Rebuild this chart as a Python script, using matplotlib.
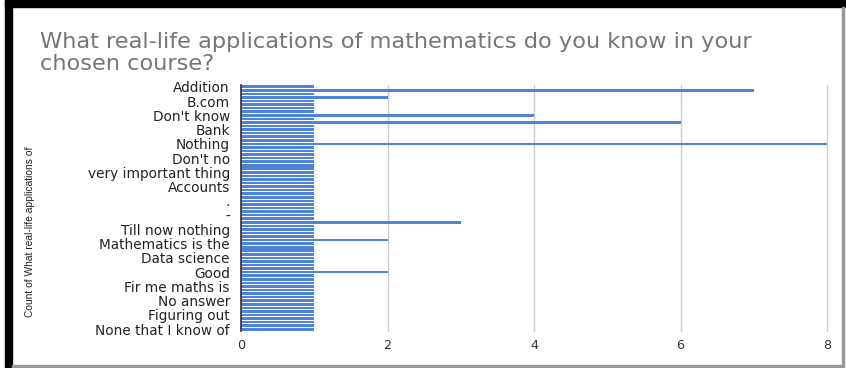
import matplotlib
matplotlib.use("Agg")
import matplotlib.pyplot as plt
from matplotlib.patches import Rectangle
import numpy as np

# ---- data ----
n_categories = 69
tick_labels = ["Addition", "B.com", "Don't know", "Bank", "Nothing", "Don't no",
               "very important thing", "Accounts", ".", "-", "Till now nothing",
               "Mathematics is the", "Data science", "Good", "Fir me maths is",
               "No answer", "Figuring out", "None that I know of"]
label_step = 4
# counts: every answer counted once, except these
counts = [1] * n_categories
special_idx = [1, 3, 8, 10, 16, 38, 43, 52]
special_val = [7, 2, 4, 6, 8, 3, 2, 2]
for i, v in zip(special_idx, special_val):
    counts[i] = v

title = "What real-life applications of mathematics do you know in your\nchosen course?"
ylabel = "Count of What real-life applications of"
xticks = [0, 2, 4, 6, 8]

# ---- figure ----
W, H = 846, 368
fig = plt.figure(figsize=(W / 100, H / 100), dpi=100)
fig.patch.set_facecolor("white")

ax = fig.add_axes([241 / W, 1 - 331 / H, (827 - 241) / W, (331 - 85) / H])
y = np.arange(n_categories)
ax.barh(y, counts, height=0.72, color="#4d84d9", zorder=3)
ax.set_ylim(n_categories - 0.5, -0.5)
ax.set_xlim(0, 8)

ax.set_yticks(y[::label_step])
ax.set_yticklabels(tick_labels, fontsize=9.8, color="#222222",
                   family=["DejaVu Sans"])
ax.tick_params(axis="y", length=0, pad=8)
ax.set_xticks(xticks)
ax.set_xticklabels([str(t) for t in xticks], fontsize=9.2, color="#333333")
ax.tick_params(axis="x", length=0, pad=6)

ax.grid(axis="x", color="#cccccc", linewidth=1, zorder=0)
for s in ["top", "right", "bottom"]:
    ax.spines[s].set_visible(False)
ax.spines["left"].set_color("#333333")
ax.spines["left"].set_linewidth(1.2)
ax.spines["left"].set_zorder(4)
for gl in ax.get_xgridlines():
    gl.set_clip_on(False)

fig.text(40 / W, 1 - 32 / H, title, fontsize=16.2, color="#757575",
         ha="left", va="top", linespacing=1.13, family=["DejaVu Sans"])

fig.text(30 / W, 1 - 232 / H, ylabel, rotation=90, fontsize=7.4, color="#222222",
         ha="center", va="center", family=["Liberation Sans Narrow", "Liberation Sans", "DejaVu Sans"])

# screenshot frame
fig.patches.append(Rectangle((5 / W, 1 - 7 / H), 1, 7 / H, transform=fig.transFigure,
                             color="black", zorder=10))
fig.patches.append(Rectangle((5 / W, 0), 7 / W, 1, transform=fig.transFigure,
                             color="black", zorder=10))
fig.patches.append(Rectangle((12 / W, 1.5 / H), (843 - 12) / W, 1.5 / H,
                             transform=fig.transFigure, color="#999999", zorder=10))
fig.patches.append(Rectangle((842 / W, 1.5 / H), 1.5 / W, 1 - 8 / H,
                             transform=fig.transFigure, color="#999999", zorder=10))

fig.savefig("out.png", dpi=100)
